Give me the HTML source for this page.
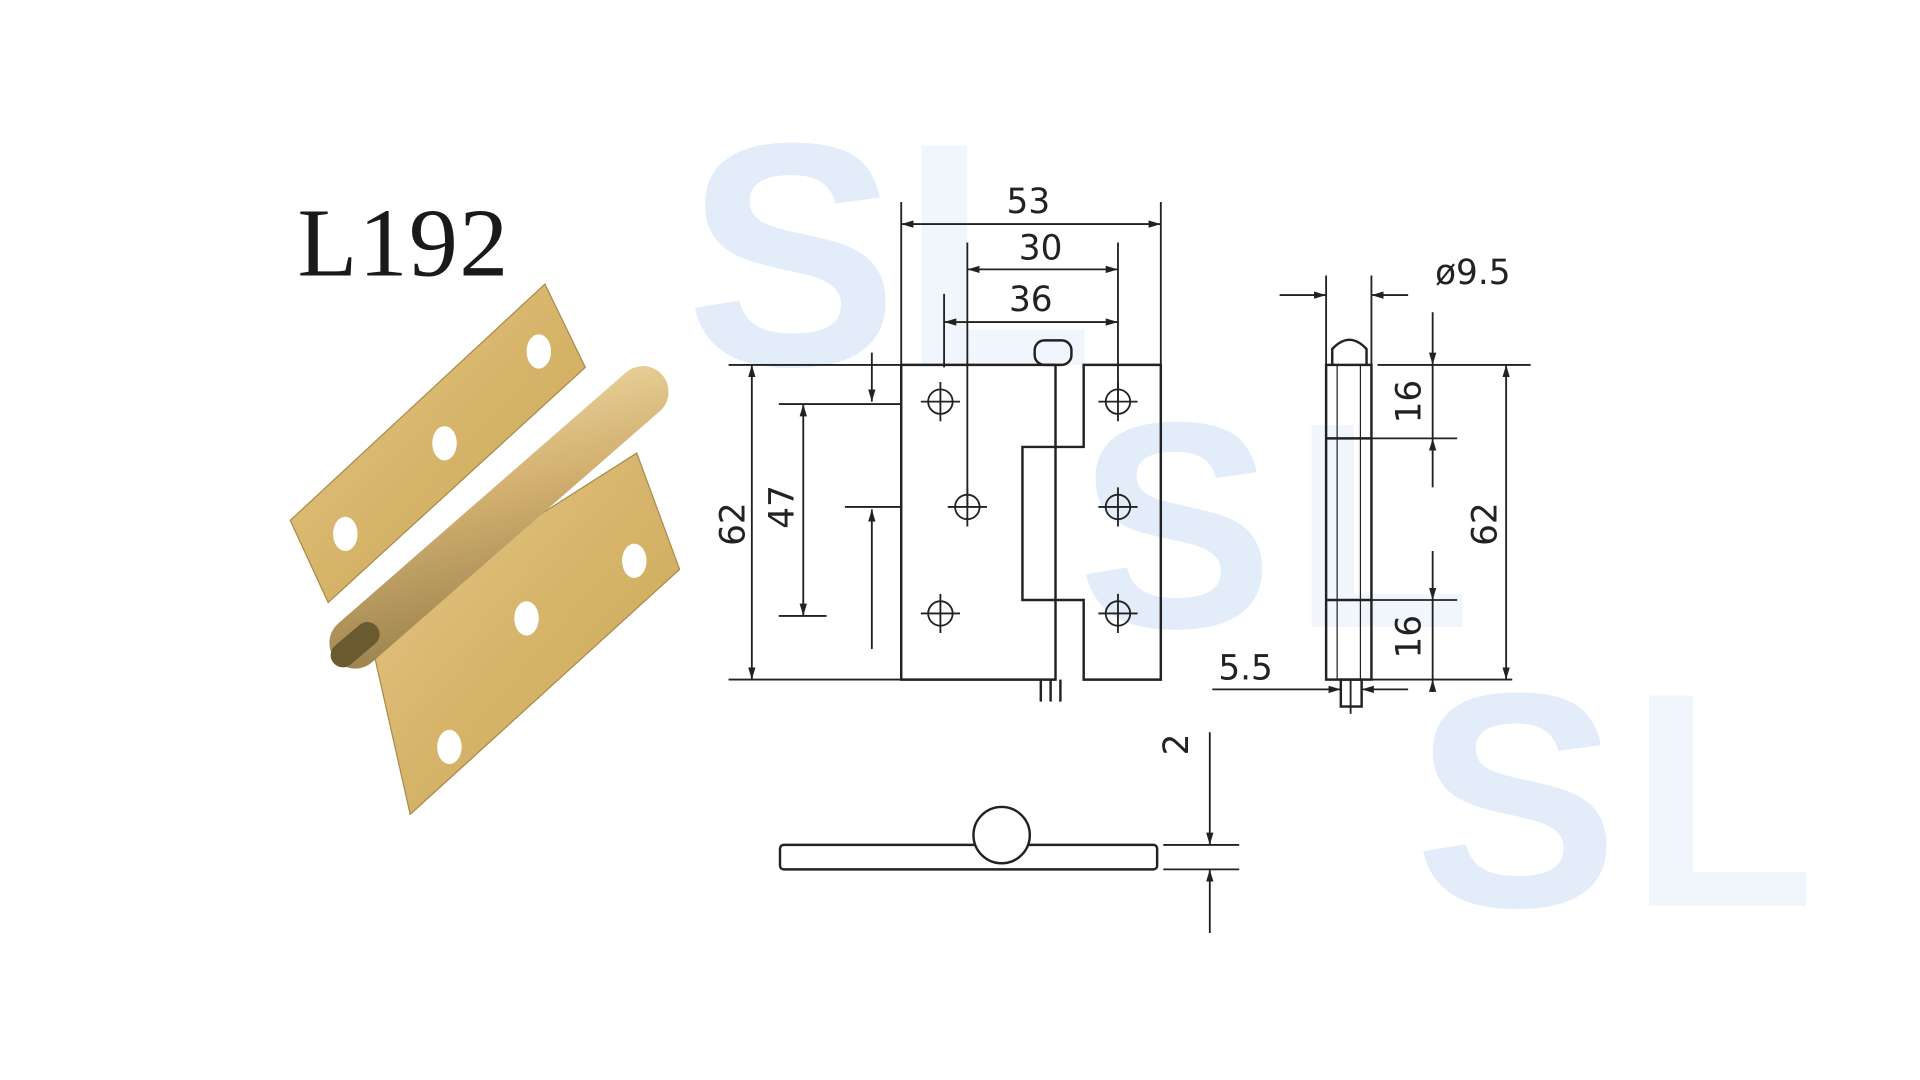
<!DOCTYPE html>
<html><head><meta charset="utf-8"><style>html,body{margin:0;padding:0;background:#fff;width:1920px;height:1080px;overflow:hidden}</style></head>
<body>
<svg width="1920" height="1080" viewBox="0 0 1568 882" xmlns="http://www.w3.org/2000/svg">
<defs>
<marker id="a" markerWidth="10" markerHeight="6" refX="10" refY="3" orient="auto-start-reverse" markerUnits="userSpaceOnUse"><path d="M0,0 L10,3 L0,6 z" fill="#222"/></marker>
<linearGradient id="g" x1="0" y1="0" x2="1" y2="1"><stop offset="0" stop-color="#e8c98a"/><stop offset="0.5" stop-color="#d6b46a"/><stop offset="1" stop-color="#c9a856"/></linearGradient>
<linearGradient id="p" x1="0" y1="0" x2="0.3" y2="1"><stop offset="0" stop-color="#f2dca8"/><stop offset="0.5" stop-color="#d2b070"/><stop offset="1" stop-color="#a08650"/></linearGradient>
</defs>
<g font-family="Liberation Sans, sans-serif" font-weight="bold" fill="#b8d2f0" opacity="0.4">
<text x="560" y="298" font-size="260">S</text><text x="735" y="298" font-size="260" opacity="0.5">L</text>
<text x="880" y="512" font-size="240">S</text><text x="1055" y="512" font-size="240" opacity="0.5">L</text>
<text x="1155" y="740" font-size="250">S</text><text x="1330" y="740" font-size="250" opacity="0.5">L</text>
</g>
<text x="243" y="225" font-family="Liberation Serif, serif" font-size="80" fill="#1a1a1a" textLength="172">L192</text>
<polygon points="237,425 445,232 478,300 268,492" fill="url(#g)" stroke="#a88a4a"/>
<polygon points="300,510 520,370 555,465 335,665" fill="url(#g)" stroke="#a88a4a"/>
<line x1="290" y1="525" x2="525" y2="320" stroke="url(#p)" stroke-width="42" stroke-linecap="round"/>
<line x1="280" y1="535" x2="300" y2="518" stroke="#6a5a30" stroke-width="20" stroke-linecap="round"/>
<g fill="#fff"><ellipse cx="440" cy="287" rx="10" ry="14"/><ellipse cx="363" cy="362" rx="10" ry="14"/><ellipse cx="282" cy="436" rx="10" ry="14"/><ellipse cx="518" cy="458" rx="10" ry="14"/><ellipse cx="430" cy="505" rx="10" ry="14"/><ellipse cx="367" cy="610" rx="10" ry="14"/></g>
<g stroke="#222" stroke-width="2" fill="none">
<path d="M862,298 H736 V555 H862 V490 M862,365 V298"/>
<path d="M885,298 H948 V555 H885 V490 H835 V365 H885 Z"/>
<line x1="862" y1="365" x2="862" y2="490"/>
<rect x="845" y="278" width="30" height="20" rx="8"/>
<line x1="850" y1="555" x2="850" y2="573"/><line x1="858" y1="555" x2="858" y2="573"/><line x1="866" y1="555" x2="866" y2="573"/>
<g stroke-width="1.5">
<circle cx="768" cy="328" r="10"/><circle cx="790" cy="414" r="10"/><circle cx="768" cy="501" r="10"/>
<circle cx="913" cy="328" r="10"/><circle cx="913" cy="414" r="10"/><circle cx="913" cy="501" r="10"/>
<path d="M752,328H784M768,312V344M774,414H806M790,398V430M752,501H784M768,485V517M897,328H929M913,312V344M897,414H929M913,398V430M897,501H929M913,485V517"/>
<path d="M736,165V298M948,165V298M790,198V414M913,198V328M771,240V300"/>
<line x1="736" y1="183" x2="948" y2="183" marker-start="url(#a)" marker-end="url(#a)"/>
<line x1="790" y1="220" x2="913" y2="220" marker-start="url(#a)" marker-end="url(#a)"/>
<line x1="771" y1="263" x2="913" y2="263" marker-start="url(#a)" marker-end="url(#a)"/>
<path d="M595,298H736M595,555H736M636,330H735M636,503H675M690,414H736"/>
<line x1="614" y1="298" x2="614" y2="555" marker-start="url(#a)" marker-end="url(#a)"/>
<line x1="656" y1="330" x2="656" y2="503" marker-start="url(#a)" marker-end="url(#a)"/>
<line x1="712" y1="288" x2="712" y2="328" marker-end="url(#a)"/>
<line x1="712" y1="530" x2="712" y2="416" marker-end="url(#a)"/>
</g>
<rect x="1083" y="298" width="37" height="257"/>
<path d="M1088,298 V285 Q1102,270 1116,285 V298"/>
<line x1="1092" y1="298" x2="1092" y2="555" stroke-width="1"/><line x1="1111" y1="298" x2="1111" y2="555" stroke-width="1"/>
<path d="M1083,358H1120M1083,490H1120"/>
<rect x="1095" y="555" width="17" height="22"/>
<g stroke-width="1.5">
<path d="M1125,298H1250M1085,555H1235M1120,358H1190M1120,490H1190M1083,225V298M1120,225V298"/>
<line x1="1230" y1="298" x2="1230" y2="555" marker-start="url(#a)" marker-end="url(#a)"/>
<line x1="1170" y1="255" x2="1170" y2="298" marker-end="url(#a)"/>
<line x1="1170" y1="398" x2="1170" y2="358" marker-end="url(#a)"/>
<line x1="1170" y1="450" x2="1170" y2="490" marker-end="url(#a)"/>
<line x1="1170" y1="565" x2="1170" y2="555" marker-end="url(#a)"/>
<line x1="1170" y1="298" x2="1170" y2="358"/><line x1="1170" y1="490" x2="1170" y2="555"/>
<line x1="1045" y1="241" x2="1083" y2="241" marker-end="url(#a)"/>
<line x1="1150" y1="241" x2="1120" y2="241" marker-end="url(#a)"/>
<line x1="990" y1="563" x2="1095" y2="563" marker-end="url(#a)"/>
<line x1="1150" y1="563" x2="1112" y2="563" marker-end="url(#a)"/>
<line x1="1103" y1="555" x2="1103" y2="583"/>
</g>
<rect x="637" y="690" width="308" height="20" rx="3"/>
<circle cx="818" cy="682" r="23" fill="#fff"/>
<g stroke-width="1.5">
<path d="M950,690H1012M950,710H1012"/>
<line x1="988" y1="598" x2="988" y2="690" marker-end="url(#a)"/>
<line x1="988" y1="762" x2="988" y2="710" marker-end="url(#a)"/>
</g>
</g>
<g font-family="DejaVu Sans, sans-serif" font-size="28" fill="#222">
<text x="822" y="174">53</text><text x="832" y="212">30</text><text x="824" y="254">36</text>
<text x="1172" y="232">ø9.5</text><text x="995" y="555">5.5</text>
<text transform="translate(608,428) rotate(-90)" text-anchor="middle">62</text>
<text transform="translate(648,414) rotate(-90)" text-anchor="middle">47</text>
<text transform="translate(1222,428) rotate(-90)" text-anchor="middle">62</text>
<text transform="translate(1160,328) rotate(-90)" text-anchor="middle">16</text>
<text transform="translate(1160,520) rotate(-90)" text-anchor="middle">16</text>
<text transform="translate(970,608) rotate(-90)" text-anchor="middle">2</text>
</g>
</svg>
</body></html>
